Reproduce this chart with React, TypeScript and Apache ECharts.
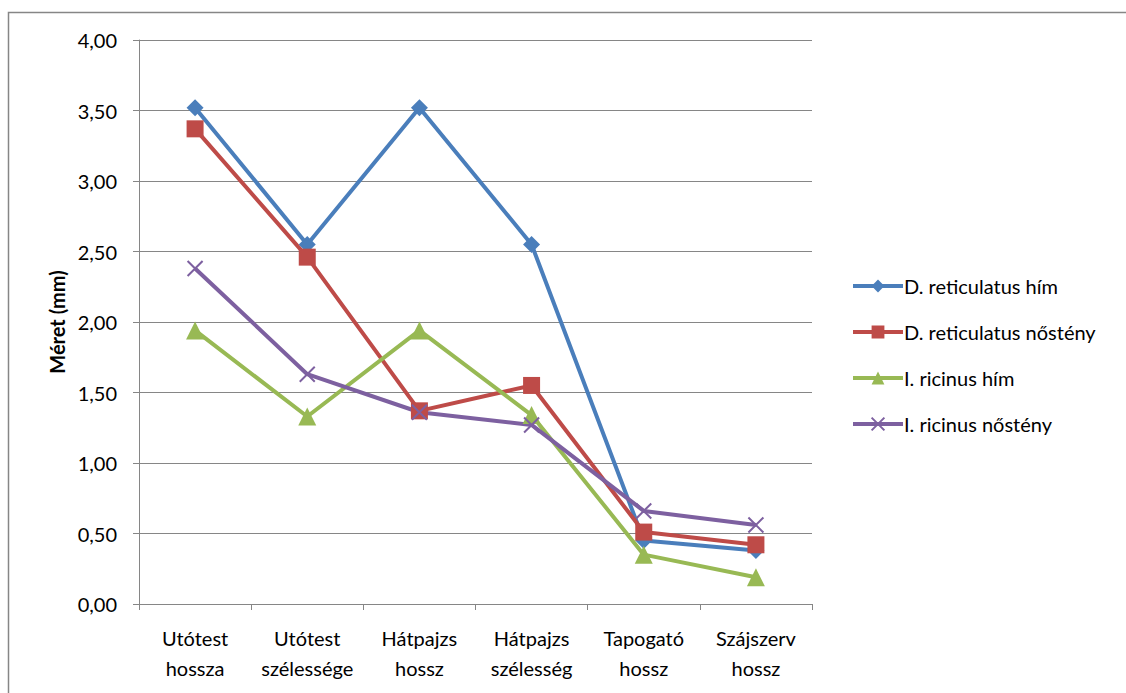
import React, { useEffect, useRef } from "react";
import * as echarts from "echarts";

const categories = [
  "Utótest\nhossza",
  "Utótest\nszélessége",
  "Hátpajzs\nhossz",
  "Hátpajzs\nszélesség",
  "Tapogató\nhossz",
  "Szájszerv\nhossz",
];

const dReticulatusHim = [3.52, 2.55, 3.52, 2.55, 0.45, 0.38];
const dReticulatusNosteny = [3.37, 2.46, 1.37, 1.55, 0.51, 0.42];
const iRicinusHim = [1.94, 1.33, 1.94, 1.34, 0.35, 0.19];
const iRicinusNosteny = [2.38, 1.63, 1.36, 1.27, 0.66, 0.56];

const yTicks = { min: 0, max: 4, interval: 0.5 };

const FONT = "Lato, 'Open Sans', sans-serif";

export default function App() {
  const ref = useRef<HTMLDivElement>(null);

  useEffect(() => {
    if (!ref.current) return;
    const chart = echarts.init(ref.current, null, { renderer: "svg" });

    const mk = (
      name: string,
      data: number[],
      color: string,
      symbol: string,
      symbolSize: number,
      extra: any = {}
    ) => ({
      name,
      type: "line",
      data,
      symbol,
      symbolSize,
      lineStyle: { color, width: 4 },
      itemStyle: { color, ...extra },
      emphasis: { disabled: true },
    });

    chart.setOption({
      animation: false,
      backgroundColor: "#ffffff",
      textStyle: { fontFamily: FONT },
      graphic: [
        {
          type: "rect",
          shape: { x: 8.5, y: 12.5, width: 1130, height: 700 },
          style: { fill: "none", stroke: "#868686", lineWidth: 1.5 },
          silent: true,
        },
      ],
      grid: { left: 139, right: 314, top: 40, bottom: 89 },
      legend: {
        orient: "vertical",
        left: 846,
        top: 271,
        itemWidth: 50,
        itemHeight: 16,
        itemGap: 26,
        lineStyle: { width: 4 },
        textStyle: { fontSize: 20, color: "#000", fontFamily: FONT, padding: [0, 0, 0, -4] },
        data: [
          "D. reticulatus hím",
          "D. reticulatus nőstény",
          "I. ricinus hím",
          "I. ricinus nőstény",
        ],
      },
      xAxis: {
        type: "category",
        data: categories,
        boundaryGap: true,
        axisLine: { lineStyle: { color: "#868686", width: 1 } },
        axisTick: { show: true, length: 6, lineStyle: { color: "#868686" } },
        axisLabel: {
          color: "#000",
          fontSize: 20,
          lineHeight: 30,
          margin: 19,
          interval: 0,
          fontFamily: FONT,
        },
      },
      yAxis: {
        type: "value",
        min: yTicks.min,
        max: yTicks.max,
        interval: yTicks.interval,
        name: "Méret (mm)",
        nameLocation: "middle",
        nameGap: 70,
        nameRotate: 90,
        nameTextStyle: { fontSize: 20, fontWeight: "bold", color: "#000", fontFamily: FONT },
        axisLine: { show: true, lineStyle: { color: "#868686", width: 1 } },
        axisTick: { show: true, length: 6, lineStyle: { color: "#868686" } },
        splitLine: { lineStyle: { color: "#868686", width: 1 } },
        axisLabel: {
          color: "#000",
          fontSize: 20,
          margin: 22,
          fontFamily: FONT,
          formatter: (v: number) => v.toFixed(2).replace(".", ","),
        },
      },
      series: [
        mk("D. reticulatus hím", dReticulatusHim, "#4A7EBB", "diamond", 17),
        mk("D. reticulatus nőstény", dReticulatusNosteny, "#BE4B48", "rect", 17),
        mk("I. ricinus hím", iRicinusHim, "#98B954", "triangle", 18),
        mk(
          "I. ricinus nőstény",
          iRicinusNosteny,
          "#7D60A0",
          "path://M0,0L10,10M10,0L0,10",
          15,
          { borderColor: "#7D60A0", borderWidth: 2 }
        ),
      ],
    });

    return () => chart.dispose();
  }, []);

  return (
    <div
      ref={ref}
      style={{ position: "absolute", left: 0, top: 0, width: 1126, height: 693 }}
    />
  );
}
